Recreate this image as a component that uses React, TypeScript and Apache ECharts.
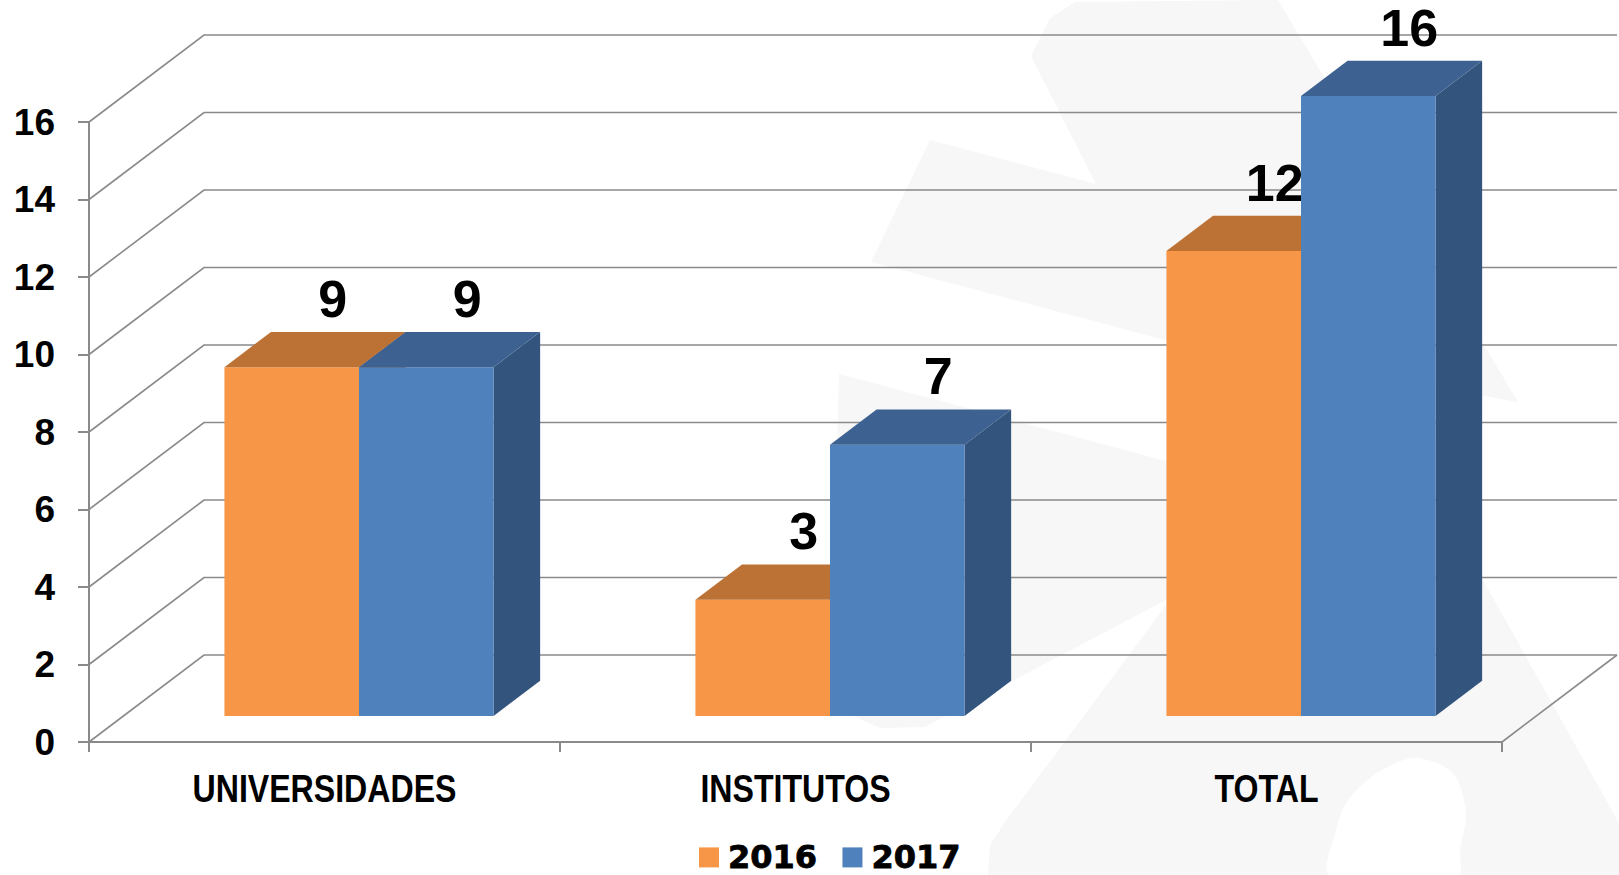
import React, { useEffect, useRef } from "react";
import * as echarts from "echarts";

// ---- data ----
const categories = ["UNIVERSIDADES", "INSTITUTOS", "TOTAL"];
const seriesNames = ["2016", "2017"];
const values2016 = [9, 3, 12];
const values2017 = [9, 7, 16];
const yTicks = [0, 2, 4, 6, 8, 10, 12, 14, 16];

// ---- layout / style ----
const W = 1619;
const H = 875;
const WALL_DX = 115;
const WALL_DY = 87;
const BAR_OFF = 0.3;
const BAR_DEPTH = 0.405;
const BAR_FRAC = 0.2857;
const LABEL_DX = 41;
const LABEL_DY = 33;
const CAT_LABEL_DY = 46;
const CAT_SCALE_X = 0.845;
const GRID_COLOR = "#8a8a8a";

const PALETTE = [
  { front: "#F79646", top: "#BC7234", side: "#B06A30" },
  { front: "#4F81BD", top: "#3D6190", side: "#33547D" },
];

const FONT_MAIN = "'Liberation Sans', Arial, Helvetica, sans-serif";
const FONT_LEGEND = "'DejaVu Sans', Verdana, sans-serif";

const watermark: number[][][] = [
  [[1031, 56], [1050, 18], [1075, 2], [1278, 0], [1518, 402], [1165, 340], [871, 262], [930, 140], [1096, 184]],
  [[839, 374], [1200, 470], [1166, 600], [925, 727], [880, 728], [845, 712], [831, 690]],
  [[988, 875], [990, 845], [1005, 822], [1172, 597], [1240, 510], [1440, 440], [1483, 580], [1619, 823], [1619, 875]],
];
const watermarkHole: number[][] = [
  [1330, 875], [1336, 830], [1348, 800], [1377, 773], [1415, 758], [1453, 773], [1466, 813], [1460, 850], [1458, 875],
];

function wallRender(params: any, api: any) {
  const cs = params.coordSys;
  const v = api.value(1);
  const y = api.coord([0, v])[1];
  const x0 = cs.x;
  const x1 = cs.x + cs.width;
  const children: any[] = [
    {
      type: "polyline",
      shape: { points: [[x0, y], [x0 + WALL_DX, y - WALL_DY], [x1 + WALL_DX, y - WALL_DY]] },
      style: { stroke: GRID_COLOR, lineWidth: 1.6, fill: null },
      silent: true,
    },
  ];
  if (v === 0) {
    children.push({
      type: "line",
      shape: { x1: x1, y1: y, x2: x1 + WALL_DX, y2: y - WALL_DY },
      style: { stroke: GRID_COLOR, lineWidth: 1.6 },
      silent: true,
    });
  }
  return { type: "group", children };
}

function catLabelRender(params: any, api: any) {
  const ci = api.value(0);
  const p = api.coord([ci, 0]);
  return {
    type: "text",
    x: p[0],
    y: p[1] + CAT_LABEL_DY,
    scaleX: CAT_SCALE_X,
    style: {
      text: categories[ci],
      align: "center",
      verticalAlign: "middle",
      fontSize: 38,
      lineHeight: 38,
      fontWeight: "bold",
      fontFamily: FONT_MAIN,
      fill: "#000",
    },
    silent: true,
  };
}

function makeBarRender(s: number) {
  const col = PALETTE[s];
  return function (params: any, api: any) {
    const ci = api.value(0);
    const v = api.value(1);
    const pTop = api.coord([ci, v]);
    const pBot = api.coord([ci, 0]);
    const band = api.size([1, 0])[0];
    const bw = band * BAR_FRAC;
    const ox = WALL_DX * BAR_OFF;
    const oy = WALL_DY * BAR_OFF;
    const dx = WALL_DX * BAR_DEPTH;
    const dy = WALL_DY * BAR_DEPTH;
    const xl = pTop[0] + ox + (s === 0 ? -bw : 0);
    const xr = xl + bw;
    const yt = pTop[1] - oy;
    const yb = pBot[1] - oy;
    return {
      type: "group",
      children: [
        {
          type: "polygon",
          shape: { points: [[xr, yt], [xr + dx, yt - dy], [xr + dx, yb - dy], [xr, yb]] },
          style: { fill: col.side },
        },
        {
          type: "rect",
          shape: { x: xl, y: yt, width: bw, height: yb - yt },
          style: { fill: col.front },
        },
        {
          type: "polygon",
          shape: { points: [[xl, yt], [xr, yt], [xr + dx, yt - dy], [xl + dx, yt - dy]] },
          style: { fill: col.top },
        },
        {
          type: "text",
          x: xl + bw / 2 + LABEL_DX,
          y: yt - dy - LABEL_DY,
          style: {
            text: String(v),
            align: "center",
            verticalAlign: "middle",
            fontSize: 52,
            lineHeight: 50,
            fontWeight: "bold",
            fontFamily: FONT_MAIN,
            fill: "#000",
          },
          z2: 10,
        },
      ],
    };
  };
}

export default function App() {
  const ref = useRef<HTMLDivElement>(null);
  useEffect(() => {
    document.body.style.margin = "0";
    if (!ref.current) return;
    const chart = echarts.init(ref.current, null, { renderer: "svg" });
    const graphics: any[] = watermark.map((pts) => ({
      type: "polygon",
      shape: { points: pts },
      style: { fill: "#f7f7f7" },
      silent: true,
      z: -10,
    }));
    graphics.push({
      type: "polygon",
      shape: { points: watermarkHole, smooth: 0.3 },
      style: { fill: "#ffffff" },
      silent: true,
      z: -9,
    });
    chart.setOption({
      animation: false,
      backgroundColor: "#ffffff",
      color: [PALETTE[0].front, PALETTE[1].front],
      graphic: { elements: graphics },
      grid: { left: 89, right: 117, top: 122, bottom: 133, containLabel: false },
      legend: {
        data: seriesNames,
        left: 699,
        top: 841,
        padding: 0,
        icon: "rect",
        itemWidth: 20,
        itemHeight: 20,
        itemGap: 25,
        selectedMode: false,
        textStyle: {
          fontSize: 32,
          lineHeight: 32,
          fontWeight: "bold",
          fontFamily: FONT_LEGEND,
          color: "#000",
          textBorderColor: "#000",
          textBorderWidth: 0.8,
          padding: [0, 0, 0, 4],
        },
      },
      xAxis: {
        type: "category",
        data: categories,
        axisLine: { show: true, lineStyle: { color: GRID_COLOR, width: 2 } },
        axisTick: { show: true, length: 10, lineStyle: { color: GRID_COLOR, width: 2 } },
        axisLabel: { show: false },
        splitLine: { show: false },
      },
      yAxis: {
        type: "value",
        min: 0,
        max: 16,
        interval: 2,
        axisLine: { show: true, lineStyle: { color: GRID_COLOR, width: 2 } },
        axisTick: { show: true, length: 11, lineStyle: { color: GRID_COLOR, width: 2 } },
        axisLabel: {
          fontSize: 37,
          fontWeight: "bold",
          fontFamily: FONT_MAIN,
          color: "#000",
          margin: 34,
        },
        splitLine: { show: false },
      },
      series: [
        {
          name: "walls",
          type: "custom",
          renderItem: wallRender,
          data: yTicks.map((v) => [0, v]),
          encode: { x: 0, y: 1 },
          z: 1,
          silent: true,
        },
        {
          name: "categoryLabels",
          type: "custom",
          renderItem: catLabelRender,
          data: categories.map((_, i) => [i, 0]),
          encode: { x: 0, y: 1 },
          z: 1,
          silent: true,
        },
        {
          name: seriesNames[0],
          type: "custom",
          renderItem: makeBarRender(0),
          itemStyle: { color: PALETTE[0].front },
          data: categories.map((_, i) => [i, values2016[i]]),
          encode: { x: 0, y: 1 },
          z: 3,
        },
        {
          name: seriesNames[1],
          type: "custom",
          renderItem: makeBarRender(1),
          itemStyle: { color: PALETTE[1].front },
          data: categories.map((_, i) => [i, values2017[i]]),
          encode: { x: 0, y: 1 },
          z: 4,
        },
      ],
    });
    return () => chart.dispose();
  }, []);
  return <div ref={ref} style={{ width: W, height: H }} />;
}
